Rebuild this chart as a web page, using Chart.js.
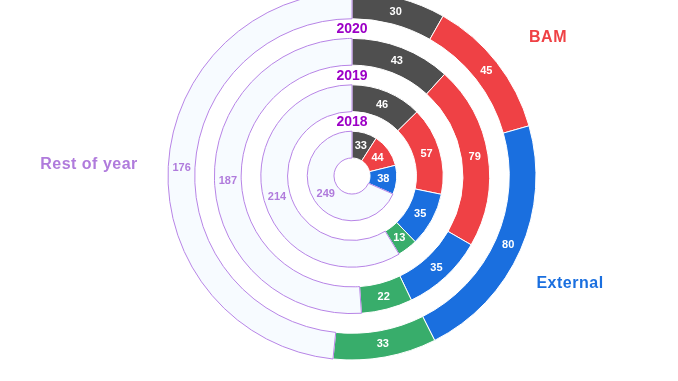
<!DOCTYPE html>
<html><head><meta charset="utf-8">
<script src="https://cdn.jsdelivr.net/npm/chart.js@4"></script>
<style>html,body{margin:0;padding:0;background:#fff;overflow:hidden}#wrap{position:relative;width:678px;height:381px}</style>
</head><body><div id="wrap"><canvas id="c"></canvas></div>
<script>
// ---- data (innermost ring = 2018) ----
const years = ['2018', '2019', '2020', '2021'];
const seriesNames = ['Internal', 'BAM', 'External', 'Other', 'Rest of year'];
const internal = [33, 46, 43, 30];
const bam = [44, 57, 79, 45];
const external = [38, 35, 35, 80];
const other = [0, 13, 22, 33];
const restOfYear = [249, 214, 187, 176];

// ---- styles ----
const fills = ['#4f4f4f', '#ef4145', '#1a6fdf', '#38ad6b', '#f7fbff'];
const borders = ['#ffffff', '#ffffff', '#ffffff', '#ffffff', '#b784e6'];
const RING_W = 26.5, GAP_W = 19.5;

const datasets = [];
for (let i = years.length - 1; i >= 0; i--) {
  datasets.push({
    label: years[i],
    data: [internal[i], bam[i], external[i], other[i], restOfYear[i]],
    backgroundColor: fills,
    borderColor: borders,
    borderWidth: 1,
    weight: RING_W,
    clip: false
  });
  if (i > 0) datasets.push({ label: '', isGap: true, data: [1], backgroundColor: 'rgba(0,0,0,0)', borderWidth: 0, weight: GAP_W, clip: false });
}

const ringLabels = {
  id: 'ringLabels',
  afterDatasetsDraw(chart) {
    const ctx = chart.ctx;
    ctx.save();
    ctx.textAlign = 'center';
    ctx.textBaseline = 'middle';
    let cx = 0, cy = 0, R = 0;
    chart.data.datasets.forEach((ds, di) => {
      if (ds.isGap) return;
      const meta = chart.getDatasetMeta(di);
      meta.data.forEach((arc, j) => {
        const v = ds.data[j];
        if (!v) return;
        const p = arc.tooltipPosition();
        ctx.font = 'bold 11px "Liberation Sans", Arial, sans-serif';
        ctx.fillStyle = j === 4 ? '#b07bdc' : '#ffffff';
        ctx.fillText(String(v), p.x, p.y + 0.5);
      });
      const a0 = meta.data[0];
      const pr = a0.getProps(['x', 'y', 'outerRadius'], true);
      if (di === 0) { cx = pr.x; cy = pr.y; R = pr.outerRadius; }
      let rLab;
      if (di > 0) {
        const g = chart.getDatasetMeta(di - 1).controller;
        rLab = (g.innerRadius + g.outerRadius) / 2;
      } else {
        rLab = pr.outerRadius + 10;
      }
      ctx.font = 'bold 14px "Liberation Sans", Arial, sans-serif';
      ctx.fillStyle = '#9c00c6';
      ctx.fillText(ds.label, pr.x, pr.y - rLab + 1);
    });
    // category annotations
    ctx.textBaseline = 'alphabetic';
    ctx.font = 'bold 16px "Liberation Sans", Arial, sans-serif';
    try { ctx.letterSpacing = '0.5px'; } catch (e) {}
    ctx.fillStyle = '#ef4145';
    ctx.fillText(seriesNames[1], cx + 196, cy - 134);
    ctx.fillStyle = '#1a6fdf';
    ctx.fillText(seriesNames[2], cx + 218, cy + 112);
    ctx.fillStyle = '#b07bdc';
    ctx.fillText(seriesNames[4], cx - 263, cy - 7);
    ctx.restore();
  }
};

new Chart(document.getElementById('c'), {
  type: 'doughnut',
  data: { labels: seriesNames, datasets },
  options: {
    responsive: true,
    maintainAspectRatio: false,
    animation: false,
    events: [],
    radius: 184,
    cutout: '9.8%',
    hoverOffset: 0,
    layout: { padding: { left: 26, bottom: 29 } },
    plugins: { legend: { display: false }, tooltip: { enabled: false } }
  },
  plugins: [ringLabels]
});
</script>
</body></html>
